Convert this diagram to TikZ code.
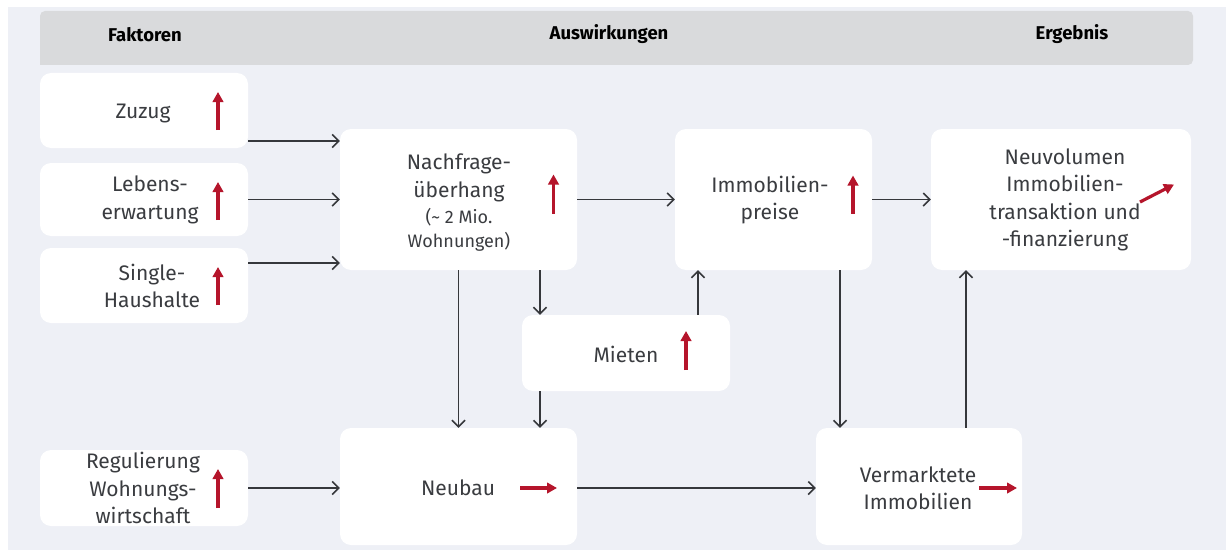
\documentclass[tikz,border=0pt]{standalone}
\usepackage{fontspec}
\setmainfont{Fira Sans}
\usetikzlibrary{arrows.meta}
\definecolor{bgc}{HTML}{EEF0F6}
\definecolor{hdr}{HTML}{D9DADC}
\definecolor{txt}{HTML}{3A3C40}
\definecolor{lnc}{HTML}{35373B}
\definecolor{redc}{HTML}{B5152B}
\tikzset{
  box/.style={draw=none, fill=white, rounded corners=11pt, inner sep=0pt},
  lbl/.style={text=txt, align=center, font=\fontsize{21}{27.5}\selectfont, inner sep=0pt},
  hd/.style={text=black, font=\bfseries\fontsize{18.5}{20}\selectfont, inner sep=0pt},
  conn/.style={draw=lnc, line width=1.6pt, -{Straight Barb[length=6.5pt,width=13pt,line width=1.5pt]}},
  up/.style={draw=redc, line width=3.2pt, -{Triangle[length=10pt,width=10.5pt]}}
}
\begin{document}
\begin{tikzpicture}[x=1pt,y=-1pt]
\useasboundingbox (0,0) rectangle (1226,551);
\fill[white] (0,0) rectangle (1226,551);
\fill[bgc] (8,7) rectangle (1226,550);
\fill[hdr, rounded corners=5pt] (40,65) -- (40,11) -- (1193,11) -- (1193,65) [sharp corners] -- cycle;
\node[hd] (h1) at (145,34.5) {Faktoren};
\node[hd] (h2) at (609,34.5) {Auswirkungen};
\node[hd] (h3) at (1072,34.5) {Ergebnis};

% boxes
\node[box, minimum width=208, minimum height=75] (zuzug) at (144,110.5) {};
\node[box, minimum width=208, minimum height=73] (lebens) at (144,199.5) {};
\node[box, minimum width=208, minimum height=75] (single) at (144,285.5) {};
\node[box, minimum width=208, minimum height=76] (reg) at (144,488) {};
\node[box, minimum width=237, minimum height=141] (nach) at (458.5,199.5) {};
\node[box, minimum width=197, minimum height=141] (immo) at (773.5,199.5) {};
\node[box, minimum width=260, minimum height=141] (neuv) at (1061,199.5) {};
\node[box, minimum width=208, minimum height=76] (miet) at (626,353) {};
\node[box, minimum width=237, minimum height=117] (neub) at (458.5,486.5) {};
\node[box, minimum width=206, minimum height=117] (verm) at (919,486.5) {};

% labels
\node[lbl, anchor=base] (tz) at (143,118.5) {Zuzug};
\node[lbl] (tl) at (150,200) {Lebens-\\erwartung};
\node[lbl] (ts) at (152,286) {Single-\\Haushalte};
\node[lbl] (tr) at (143,488) {Regulierung\\Wohnungs-\\wirtschaft};
\node[lbl] (tn) at (459,202.5) {Nachfrage-\\überhang\\[-1.5pt]{\fontsize{18}{24}\selectfont (\char"007E{} 2 Mio.}\\[-3.5pt]{\fontsize{18}{24}\selectfont Wohnungen)}};
\node[lbl] (ti) at (770,200) {Immobilien-\\preise};
\node[lbl] (tv) at (1065,200) {Neuvolumen\\Immobilien-\\transaktion und\\-finanzierung};
\node[lbl, anchor=base] (tm) at (626,362) {Mieten};
\node[lbl, anchor=base] (tb) at (458,495) {Neubau};
\node[lbl] (tk) at (918,488) {Vermarktete\\Immobilien};

% red trend arrows
\draw[up] ([shift={(74,19.5)}]zuzug.center) -- ([shift={(74,-18.5)}]zuzug.center);
\draw[up] ([shift={(74,20.5)}]lebens.center) -- ([shift={(74,-17.5)}]lebens.center);
\draw[up] ([shift={(74,19.5)}]single.center) -- ([shift={(74,-18.5)}]single.center);
\draw[up] ([shift={(74,20)}]reg.center) -- ([shift={(74,-19)}]reg.center);
\draw[up] ([shift={(95,14)}]nach.center) -- ([shift={(95,-25)}]nach.center);
\draw[up] ([shift={(79.5,14)}]immo.center) -- ([shift={(79.5,-24)}]immo.center);
\draw[up] ([shift={(60,17)}]miet.center) -- ([shift={(60,-22)}]miet.center);
\draw[up] ([shift={(79,2.5)}]neuv.center) -- ([shift={(113,-15)}]neuv.center);
\draw[up] ([shift={(61.5,1.5)}]neub.center) -- ([shift={(98.5,1.5)}]neub.center);
\draw[up] ([shift={(60,1.5)}]verm.center) -- ([shift={(98,1.5)}]verm.center);

% connectors
\draw[conn] ([yshift=-30.5pt]zuzug.east) coordinate (a1) -- (a1 -| nach.west);
\draw[conn] (lebens.east) -- (lebens.east -| nach.west);
\draw[conn] ([yshift=22.5pt]single.east) coordinate (a3) -- (a3 -| nach.west);
\draw[conn] (nach.east) -- (immo.west);
\draw[conn] (immo.east) -- (neuv.west);
\draw[conn] (reg.east) -- (reg.east -| neub.west);
\draw[conn] (reg.east -| neub.east) -- (reg.east -| verm.west);
\draw[conn] (nach.south) -- (neub.north);
\coordinate (xa) at (540,0);
\coordinate (xb) at (698,0);
\coordinate (xc) at (840,0);
\coordinate (xd) at (966,0);
\draw[conn] (nach.south -| xa) -- (miet.north -| xa);
\draw[conn] (miet.south -| xa) -- (neub.north -| xa);
\draw[conn] (miet.north -| xb) -- (immo.south -| xb);
\draw[conn] (immo.south -| xc) -- (verm.north -| xc);
\draw[conn] (verm.north -| xd) -- (neuv.south -| xd);
\end{tikzpicture}
\end{document}
